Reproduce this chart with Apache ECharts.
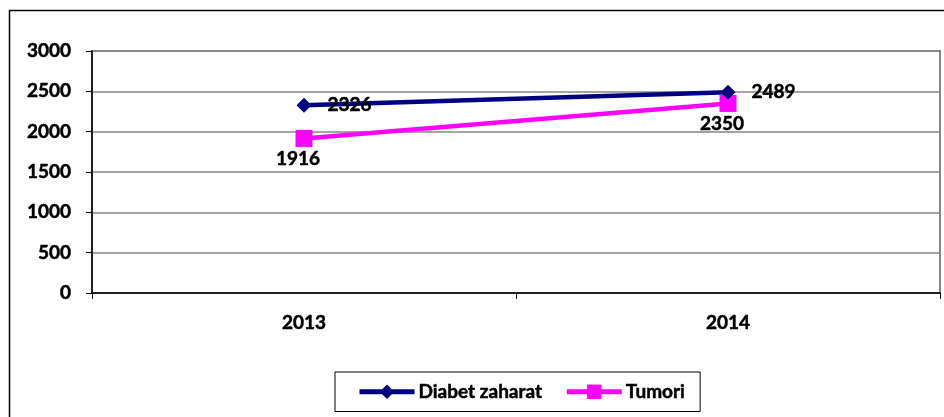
<!DOCTYPE html>
<html>
<head>
<meta charset="utf-8">
<script src="https://cdn.jsdelivr.net/npm/echarts@6/dist/echarts.min.js"></script>
<style>
  html, body { margin: 0; padding: 0; background: #fff; }
  #chart { width: 944px; height: 417px; }
</style>
</head>
<body>
<div id="chart"></div>
<script>
// date
const years = ['2013', '2014'];
const diabet = [2326, 2489];
const tumori = [1916, 2350];
const yTicks = [0, 500, 1000, 1500, 2000, 2500, 3000];

const FONT = 'Lato';
const chart = echarts.init(document.getElementById('chart'));

const lbl = {
  fontFamily: FONT, fontWeight: 'bold', fontSize: 19, color: '#000',
  textBorderColor: '#000', textBorderWidth: 0.5,
};

chart.setOption({
  animation: false,
  textStyle: { fontFamily: FONT },
  // chenarul exterior (marginea de jos/dreapta iese din imagine)
  graphic: [{
    type: 'rect', left: 7, top: 8, silent: true,
    shape: { width: 980, height: 440 },
    style: { fill: 'none', stroke: '#000', lineWidth: 1.5 },
  }],
  grid: {
    left: 92, top: 51, right: 4, bottom: 124,
    show: true, borderColor: '#868686', borderWidth: 2,
  },
  legend: {
    data: ['Diabet zaharat', 'Tumori'],
    left: 335, top: 372,
    padding: [10, 15, 10, 22],
    itemGap: 22, itemWidth: 55, itemHeight: 18,
    borderColor: '#000', borderWidth: 1,
    lineStyle: { width: 5 },
    textStyle: Object.assign({}, lbl, { padding: [0, 0, 0, -1] }),
  },
  xAxis: {
    type: 'category', data: years, boundaryGap: true,
    axisLine: { lineStyle: { color: '#000', width: 1.5 } },
    axisTick: { show: true, length: 6, inside: false, lineStyle: { color: '#000' } },
    axisLabel: Object.assign({}, lbl, { margin: 20 }),
  },
  yAxis: {
    type: 'value', min: yTicks[0], max: yTicks[yTicks.length - 1], interval: 500,
    axisLine: { show: true, lineStyle: { color: '#000', width: 1.5 } },
    axisTick: { show: true, length: 6, lineStyle: { color: '#000' } },
    axisLabel: Object.assign({}, lbl, { margin: 21, formatter: (v) => String(v) }),
    splitLine: { lineStyle: { color: '#868686', width: 1.5 } },
  },
  series: [{
    name: 'Diabet zaharat', type: 'line', data: diabet,
    color: '#000080', symbol: 'diamond', symbolSize: 15,
    lineStyle: { width: 4.5 },
    label: Object.assign({ show: true, position: 'right', distance: 16 }, lbl),
    z: 3,
  }, {
    name: 'Tumori', type: 'line', data: tumori,
    color: '#FF00FF', symbol: 'rect', symbolSize: 17,
    lineStyle: { width: 4.5 },
    label: Object.assign({ show: true, position: 'bottom', distance: 2, offset: [-6, 0] }, lbl),
    z: 2,
  }],
});
</script>
</body>
</html>
